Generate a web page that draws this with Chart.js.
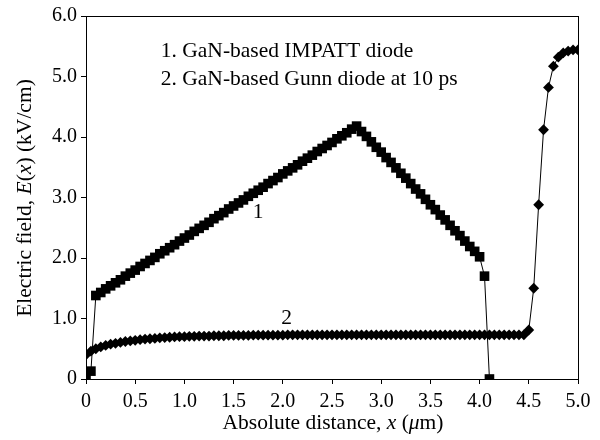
<!DOCTYPE html>
<html>
<head>
<meta charset="utf-8">
<script src="https://cdn.jsdelivr.net/npm/chart.js@4/dist/chart.umd.min.js"></script>
<style>
  html, body { margin: 0; padding: 0; background: #fff; }
  #wrap { width: 600px; height: 440px; }
</style>
</head>
<body>
<div id="wrap"><canvas id="fieldChart" width="600" height="440"></canvas></div>
<script>
(function(){
    "use strict";

    // absolute distance grid, um
    const distance = [
        0.00, 0.05, 0.10, 0.15, 0.20, 0.25, 0.30, 0.35, 0.40, 0.45,
        0.50, 0.55, 0.60, 0.65, 0.70, 0.75, 0.80, 0.85, 0.90, 0.95,
        1.00, 1.05, 1.10, 1.15, 1.20, 1.25, 1.30, 1.35, 1.40, 1.45,
        1.50, 1.55, 1.60, 1.65, 1.70, 1.75, 1.80, 1.85, 1.90, 1.95,
        2.00, 2.05, 2.10, 2.15, 2.20, 2.25, 2.30, 2.35, 2.40, 2.45,
        2.50, 2.55, 2.60, 2.65, 2.70, 2.75, 2.80, 2.85, 2.90, 2.95,
        3.00, 3.05, 3.10, 3.15, 3.20, 3.25, 3.30, 3.35, 3.40, 3.45,
        3.50, 3.55, 3.60, 3.65, 3.70, 3.75, 3.80, 3.85, 3.90, 3.95,
        4.00, 4.05, 4.10, 4.15, 4.20, 4.25, 4.30, 4.35, 4.40, 4.45,
        4.50, 4.55, 4.60, 4.65, 4.70, 4.75, 4.80, 4.85, 4.90, 4.95,
        5.00
    ];

    // 1. GaN-based IMPATT diode (ends at 4.10 um)
    const impattField = [
        0.00, 0.13, 1.38, 1.43, 1.49, 1.54, 1.59, 1.64, 1.70, 1.75,
        1.80, 1.86, 1.91, 1.96, 2.01, 2.07, 2.12, 2.17, 2.22, 2.28,
        2.33, 2.38, 2.44, 2.49, 2.54, 2.59, 2.65, 2.70, 2.75, 2.81,
        2.86, 2.91, 2.96, 3.02, 3.07, 3.12, 3.17, 3.23, 3.28, 3.33,
        3.39, 3.44, 3.49, 3.54, 3.60, 3.65, 3.70, 3.76, 3.81, 3.86,
        3.91, 3.97, 4.02, 4.07, 4.13, 4.18, 4.09, 4.01, 3.92, 3.83,
        3.75, 3.66, 3.58, 3.49, 3.40, 3.32, 3.23, 3.14, 3.06, 2.97,
        2.88, 2.80, 2.71, 2.63, 2.54, 2.45, 2.37, 2.28, 2.19, 2.11,
        2.02, 1.70, 0.00
    ];

    // 2. GaN-based Gunn diode at 10 ps
    const gunnField = [
        0.40, 0.46, 0.50, 0.53, 0.555, 0.575, 0.59, 0.605, 0.62, 0.63,
        0.64, 0.65, 0.66, 0.665, 0.67, 0.68, 0.685, 0.69, 0.695, 0.70,
        0.70, 0.705, 0.705, 0.71, 0.71, 0.71, 0.715, 0.715, 0.715, 0.72,
        0.72, 0.72, 0.72, 0.72, 0.725, 0.725, 0.725, 0.725, 0.725, 0.725,
        0.725, 0.73, 0.73, 0.73, 0.73, 0.73, 0.73, 0.73, 0.73, 0.73,
        0.73, 0.73, 0.73, 0.73, 0.73, 0.73, 0.73, 0.73, 0.73, 0.73,
        0.73, 0.73, 0.73, 0.73, 0.73, 0.73, 0.73, 0.73, 0.73, 0.73,
        0.73, 0.73, 0.73, 0.73, 0.73, 0.73, 0.73, 0.73, 0.73, 0.73,
        0.73, 0.73, 0.73, 0.73, 0.73, 0.73, 0.73, 0.73, 0.73, 0.73,
        0.81, 1.50, 2.88, 4.12, 4.82, 5.17, 5.32, 5.39, 5.42, 5.44,
        5.44
    ];

    const xTickLabels = ['0', '0.5', '1.0', '1.5', '2.0', '2.5', '3.0', '3.5', '4.0', '4.5', '5.0'];
    const yTickLabels = ['0', '1.0', '2.0', '3.0', '4.0', '5.0', '6.0'];
    const legendLines = ['1. GaN-based IMPATT diode', '2. GaN-based Gunn diode at 10 ps'];

    const FONT = '"Liberation Serif", "Times New Roman", serif';
    const FS = 20;      // tick labels
    const TS = 21.5;    // titles and notes

    const toPoints = vals => vals.map((v, i) => ({ x: distance[i], y: v }));

    function drawRich(ctx, parts, cx, cy) {
        let total = 0;
        parts.forEach(p => {
            ctx.font = (p.i ? 'italic ' : '') + TS + 'px ' + FONT;
            p.w = ctx.measureText(p.t).width;
            total += p.w;
        });
        let x = cx - total / 2;
        ctx.textAlign = 'left';
        ctx.textBaseline = 'middle';
        parts.forEach(p => {
            ctx.font = (p.i ? 'italic ' : '') + TS + 'px ' + FONT;
            ctx.fillText(p.t, x, cy);
            x += p.w;
        });
    }

    const decorPlugin = {
        id: 'decor',
        afterDraw(chart) {
            const ctx = chart.ctx, a = chart.chartArea;
            const xs = chart.scales.x, ys = chart.scales.y;
            ctx.save();
            ctx.strokeStyle = '#000';
            ctx.lineWidth = 1;
            ctx.strokeRect(Math.round(a.left) + 0.5, Math.round(a.top) + 0.5, a.right - a.left, a.bottom - a.top);
            ctx.fillStyle = '#000';

            // legend text inside plot
            ctx.font = TS + 'px ' + FONT;
            ctx.textAlign = 'left';
            ctx.textBaseline = 'middle';
            ctx.fillText(legendLines[0], xs.getPixelForValue(0.76), ys.getPixelForValue(5.42));
            ctx.fillText(legendLines[1], xs.getPixelForValue(0.76), ys.getPixelForValue(4.96));

            // curve numbers
            ctx.textAlign = 'center';
            ctx.fillText('1', xs.getPixelForValue(1.75), ys.getPixelForValue(2.75));
            ctx.fillText('2', xs.getPixelForValue(2.04), ys.getPixelForValue(1.0));

            // axis titles
            drawRich(ctx, [{ t: 'Absolute distance, ' }, { t: 'x', i: true }, { t: ' (' }, { t: '\u03bc', i: true }, { t: 'm)' }], 333, 423);
            ctx.translate(25, 198);
            ctx.rotate(-Math.PI / 2);
            drawRich(ctx, [{ t: 'Electric field, ' }, { t: 'E', i: true }, { t: '(' }, { t: 'x', i: true }, { t: ') (kV/cm)' }], 0, 0);
            ctx.restore();
        }
    };

    const tickFont = { family: FONT, size: FS };

    new Chart(document.getElementById('fieldChart'), {
        type: 'scatter',
        data: {
            datasets: [
                {
                    label: legendLines[0],
                    data: toPoints(impattField),
                    showLine: true,
                    borderColor: '#000',
                    borderWidth: 1,
                    pointStyle: 'rect',
                    pointRadius: 6.8,
                    pointBackgroundColor: '#000',
                    pointBorderWidth: 0
                },
                {
                    label: legendLines[1],
                    data: toPoints(gunnField),
                    showLine: true,
                    borderColor: '#000',
                    borderWidth: 1,
                    pointStyle: 'rectRot',
                    pointRadius: 5.4,
                    pointBackgroundColor: '#000',
                    pointBorderWidth: 0
                }
            ]
        },
        options: {
            responsive: false,
            animation: false,
            devicePixelRatio: 1,
            layout: { padding: { left: 0, top: 15, right: 22, bottom: 0 } },
            plugins: { legend: { display: false }, tooltip: { enabled: false } },
            scales: {
                x: {
                    type: 'linear', min: 0, max: 5,
                    afterFit: s => { s.height = 61; },
                    grid: { drawOnChartArea: false, color: '#000', tickLength: 5 },
                    border: { color: '#000', width: 1 },
                    ticks: {
                        stepSize: 0.5, color: '#000', font: tickFont, padding: 6, maxRotation: 0,
                        callback: (v, i) => xTickLabels[i]
                    }
                },
                y: {
                    type: 'linear', min: 0, max: 6,
                    afterFit: s => { s.width = 86; },
                    grid: { drawOnChartArea: false, color: '#000', tickLength: 5 },
                    border: { color: '#000', width: 1 },
                    ticks: {
                        stepSize: 1, color: '#000', font: tickFont, padding: 4,
                        callback: (v, i) => yTickLabels[i]
                    }
                }
            }
        },
        plugins: [decorPlugin]
    });
})();
</script>
</body>
</html>
